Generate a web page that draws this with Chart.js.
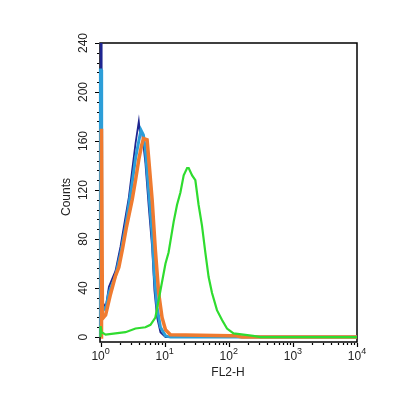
<!DOCTYPE html>
<html>
<head>
<meta charset="utf-8">
<script src="https://cdn.jsdelivr.net/npm/chart.js@4.4.1/dist/chart.umd.min.js"></script>
<style>
  html, body { margin: 0; padding: 0; background: #fff; }
  #wrap { width: 410px; height: 396px; }
</style>
</head>
<body>
<div id="wrap"><canvas id="histo"></canvas></div>
<script>
// FL2-H channel values (log axis) and counts
const navyX  = [1.005, 1.005, 1.03, 1.04, 1.2, 1.35, 1.71, 2.05, 2.45, 2.76, 3.11, 3.51, 3.95, 4.1, 4.46, 5.01, 5.65, 6.38, 6.92, 7.63, 8.59, 10.3, 10000];
const navyY  = [0, 260, 260, 30, 24, 41, 54, 74, 98, 114, 136, 158, 176, 168, 166, 142, 106, 73, 38, 16, 4, 0, 0];

const blueX  = [0.995, 0.995, 1.02, 1.04, 1.2, 1.35, 1.71, 2.05, 2.45, 2.76, 3.11, 3.51, 3.95, 4.27, 4.66, 5.01, 5.65, 6.38, 6.92, 7.63, 8.59, 10.3, 12.3, 10000];
const blueY  = [0, 218, 218, 26, 22, 36, 50, 68, 90, 108, 126, 146, 160, 169, 165, 152, 118, 84, 50, 24, 8, 1, 0, 0];

const orangeX = [1.02, 1.02, 1.05, 1.07, 1.2, 1.43, 1.71, 1.93, 2.2, 2.54, 3.11, 3.51, 3.95, 4.35, 4.67, 5.32, 5.65, 6.38, 7.16, 8.06, 9.1, 10.3, 12.3, 105, 130, 160, 10000];
const orangeY = [0, 170, 170, 15, 18, 35, 50, 57, 72, 90, 112, 128, 145, 156, 162, 161, 145, 112, 71, 36, 16, 6, 2, 1, 1, 0, 0];

const greenX = [1, 1, 1.04, 1.2, 1.71, 2.45, 3.51, 5.01, 6.0, 7.16, 8.59, 10.3, 11.5, 13.8, 15.6, 17.6, 19.8, 22.4, 23.7, 26.8, 30.1, 33.8, 38.2, 43.1, 48.5, 54.8, 65.4, 78.5, 93.8, 118.6, 169.6, 240, 310, 10000];
const greenY = [0, 9, 4, 2, 3, 4, 7, 8, 10, 16, 38, 60, 69, 94, 108, 118, 132, 138, 138, 132, 128, 108, 91, 69, 49, 36, 22, 14, 7, 3, 2, 1, 0, 0];

const yTicks = [0, 40, 80, 120, 160, 200, 240];
const xDecades = [0, 1, 2, 3, 4];

function pts(xs, ys) {
    return xs.map((x, i) => ({ x: x, y: ys[i] }));
}

// frame, ticks and labels drawn by hand, placed through the chart's own scales
const flowAxes = {
    id: 'flowAxes',
    beforeDatasetsDraw(chart) {
        const { ctx, chartArea: a } = chart;
        ctx.save();
        ctx.strokeStyle = '#000';
        ctx.lineWidth = 1.5;
        ctx.strokeRect(a.left, a.top, a.right - a.left, a.bottom - a.top);
        ctx.restore();
    },
    afterDraw(chart) {
        const { ctx, chartArea: a, scales: { x, y } } = chart;
        ctx.save();
        ctx.strokeStyle = '#000';
        ctx.lineWidth = 1.2;
        ctx.beginPath();
        for (let v = 0; v <= 240; v += 8) {
            const py = Math.round(y.getPixelForValue(v)) + 0.5;
            const len = v % 40 === 0 ? 5 : 3;
            ctx.moveTo(a.left - len, py);
            ctx.lineTo(a.left - 1, py);
        }
        for (let d = 0; d < 4; d++) {
            for (let k = 1; k <= 10; k++) {
                const px = Math.round(x.getPixelForValue(k * Math.pow(10, d))) + 0.5;
                const len = (k === 1 || k === 10) ? 5 : 3;
                ctx.moveTo(px, a.bottom + 1);
                ctx.lineTo(px, a.bottom + len);
            }
        }
        ctx.stroke();

        ctx.fillStyle = '#222';
        ctx.font = '12px "Liberation Sans", Arial, sans-serif';
        ctx.textAlign = 'center';
        ctx.textBaseline = 'middle';
        yTicks.forEach(v => {
            ctx.save();
            ctx.translate(84, y.getPixelForValue(v));
            ctx.rotate(-Math.PI / 2);
            ctx.fillText(String(v), 0, 0);
            ctx.restore();
        });

        ctx.save();
        ctx.translate(67, 197);
        ctx.rotate(-Math.PI / 2);
        ctx.fillText('Counts', 0, 0);
        ctx.restore();

        ctx.textBaseline = 'alphabetic';
        xDecades.forEach(d => {
            const px = x.getPixelForValue(Math.pow(10, d));
            ctx.font = '12px "Liberation Sans", Arial, sans-serif';
            const w1 = ctx.measureText('10').width;
            ctx.font = '9px "Liberation Sans", Arial, sans-serif';
            const w2 = ctx.measureText(String(d)).width;
            const left = px - (w1 + w2) / 2;
            ctx.textAlign = 'left';
            ctx.font = '12px "Liberation Sans", Arial, sans-serif';
            ctx.fillText('10', left, 360);
            ctx.font = '9px "Liberation Sans", Arial, sans-serif';
            ctx.fillText(String(d), left + w1, 354);
        });

        ctx.textAlign = 'center';
        ctx.font = '12px "Liberation Sans", Arial, sans-serif';
        ctx.fillText('FL2-H', 228, 376);
        ctx.restore();
    }
};

document.addEventListener('DOMContentLoaded', () => {
    const ctx = document.getElementById('histo').getContext('2d');
    const clip = { left: 3, top: 0, right: 0, bottom: 3 };

    new Chart(ctx, {
        type: 'scatter',
        data: {
            datasets: [
                { label: 'green', data: pts(greenX, greenY), borderColor: '#2fdc2f', borderWidth: 2.2, order: 0 },
                { label: 'orange', data: pts(orangeX, orangeY), borderColor: '#ef7b30', borderWidth: 3.5, order: 1 },
                { label: 'blue', data: pts(blueX, blueY), borderColor: '#2c9ed8', borderWidth: 3, order: 2 },
                { label: 'navy', data: pts(navyX, navyY), borderColor: '#1e2590', borderWidth: 1.8, order: 3 }
            ].map(ds => Object.assign(ds, {
                showLine: true,
                pointRadius: 0,
                pointHoverRadius: 0,
                tension: 0,
                fill: false,
                clip: clip
            }))
        },
        options: {
            responsive: true,
            maintainAspectRatio: false,
            animation: false,
            events: [],
            layout: { padding: { left: 100, right: 53, top: 43, bottom: 54 } },
            plugins: {
                legend: { display: false },
                tooltip: { enabled: false }
            },
            scales: {
                x: { type: 'logarithmic', min: 0.98, max: 10000, display: false },
                y: { type: 'linear', min: -4, max: 240, display: false }
            }
        },
        plugins: [flowAxes]
    });
});
</script>
</body>
</html>
